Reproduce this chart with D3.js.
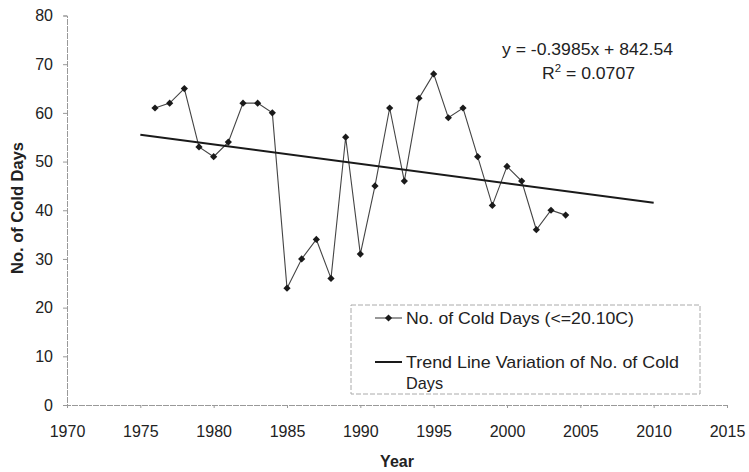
<!DOCTYPE html>
<html>
<head>
<meta charset="utf-8">
<script src="https://cdn.jsdelivr.net/npm/d3@7"></script>
<style>
  body { margin: 0; background: #fff; }
  text { font-family: Arial, "Liberation Sans", sans-serif; fill: #222; }
</style>
</head>
<body>
<svg id="chart" width="749" height="472"></svg>
<script>
// observed series
var years = [1976, 1977, 1978, 1979, 1980, 1981, 1982, 1983, 1984, 1985,
  1986, 1987, 1988, 1989, 1990, 1991, 1992, 1993, 1994, 1995,
  1996, 1997, 1998, 1999, 2000, 2001, 2002, 2003, 2004];
var coldDays = [61, 62, 65, 53, 51, 54, 62, 62, 60, 24,
  30, 34, 26, 55, 31, 45, 61, 46, 63, 68,
  59, 61, 51, 41, 49, 46, 36, 40, 39];

// trend line (from the equation shown on the chart)
var trendSlope = -0.3985;
var trendIntercept = 842.54;
var trendYears = [1975, 2010];

var xTicks = [1970, 1975, 1980, 1985, 1990, 1995, 2000, 2005, 2010, 2015];
var yTicks = [0, 10, 20, 30, 40, 50, 60, 70, 80];

var svg = d3.select("#chart");
var axisColor = "#999";

var x = d3.scaleLinear().domain([1970, 2015]).range([67, 727]);
var y = d3.scaleLinear().domain([0, 80]).range([405, 15.5]);

// axes
var xAxis = svg.append("g")
  .attr("transform", "translate(0," + y(0) + ")")
  .call(d3.axisBottom(x).tickValues(xTicks).tickFormat(d3.format("d")).tickSize(3).tickPadding(18));
var yAxis = svg.append("g")
  .attr("transform", "translate(" + x(1970) + ",0)")
  .call(d3.axisLeft(y).tickValues(yTicks).tickSize(4).tickPadding(10));

[xAxis, yAxis].forEach(function (ax) {
  ax.select(".domain").attr("stroke", axisColor).attr("stroke-dasharray", "6,1");
  ax.selectAll(".tick line").attr("stroke", axisColor);
  ax.selectAll(".tick text")
    .style("font-size", "16px")
    .style("font-family", "Arial, 'Liberation Sans', sans-serif")
    .attr("fill", "#222");
});

// data line
var pts = years.map(function (yr, i) { return [yr, coldDays[i]]; });
var line = d3.line()
  .x(function (d) { return x(d[0]); })
  .y(function (d) { return y(d[1]); });

svg.append("path")
  .datum(pts)
  .attr("d", line)
  .attr("fill", "none")
  .attr("stroke", "#444")
  .attr("stroke-width", 1.1);

// trend line
var trendPts = trendYears.map(function (yr) { return [yr, trendSlope * yr + trendIntercept]; });
svg.append("path")
  .datum(trendPts)
  .attr("d", line)
  .attr("fill", "none")
  .attr("stroke", "#1a1a1a")
  .attr("stroke-width", 2);

// markers (square turned 45 degrees)
var marker = d3.symbol().type(d3.symbolSquare).size(26);
svg.selectAll(".pt").data(pts).enter()
  .append("path")
  .attr("class", "pt")
  .attr("d", marker)
  .attr("transform", function (d) { return "translate(" + x(d[0]) + "," + y(d[1]) + ") rotate(45)"; })
  .attr("fill", "#1a1a1a");

// the scanned text is a bit wider than Arial, so stretch to the measured widths
function wide(sel, len) {
  return sel.attr("textLength", len).attr("lengthAdjust", "spacingAndGlyphs");
}

// equation text
wide(svg.append("text").attr("x", 502).attr("y", 55)
  .style("font-size", "17px").text("y = -0.3985x + 842.54"), 171);
var r2 = svg.append("text").attr("x", 542).attr("y", 79)
  .style("font-size", "17px");
r2.append("tspan").text("R");
r2.append("tspan").attr("dy", -7).style("font-size", "11px").text("2");
r2.append("tspan").attr("dy", 7).text(" = 0.0707");
wide(r2, 93);

// legend
var lg = svg.append("g");
lg.append("rect")
  .attr("x", 351).attr("y", 305).attr("width", 349).attr("height", 89)
  .attr("fill", "none").attr("stroke", "#aaa").attr("stroke-dasharray", "5,2");
lg.append("line").attr("x1", 375).attr("x2", 402).attr("y1", 318).attr("y2", 318)
  .attr("stroke", "#444").attr("stroke-width", 1.1);
lg.append("path").attr("d", marker)
  .attr("transform", "translate(388.5,318) rotate(45)").attr("fill", "#1a1a1a");
wide(lg.append("text").attr("x", 406).attr("y", 324).style("font-size", "17px")
  .text("No. of Cold Days (<=20.10C)"), 228);
lg.append("line").attr("x1", 375).attr("x2", 402).attr("y1", 362).attr("y2", 362)
  .attr("stroke", "#1a1a1a").attr("stroke-width", 2);
wide(lg.append("text").attr("x", 406).attr("y", 368).style("font-size", "17px")
  .text("Trend Line Variation of No. of Cold"), 273);
wide(lg.append("text").attr("x", 406).attr("y", 389).style("font-size", "17px")
  .text("Days"), 37);

// axis titles
svg.append("text").attr("x", 397).attr("y", 467).attr("text-anchor", "middle")
  .style("font-size", "16px").style("font-weight", "bold").text("Year");
svg.append("text")
  .attr("transform", "translate(23,208) rotate(-90)")
  .attr("text-anchor", "middle")
  .style("font-size", "16.5px").style("font-weight", "bold")
  .text("No. of Cold Days");
</script>
</body>
</html>
